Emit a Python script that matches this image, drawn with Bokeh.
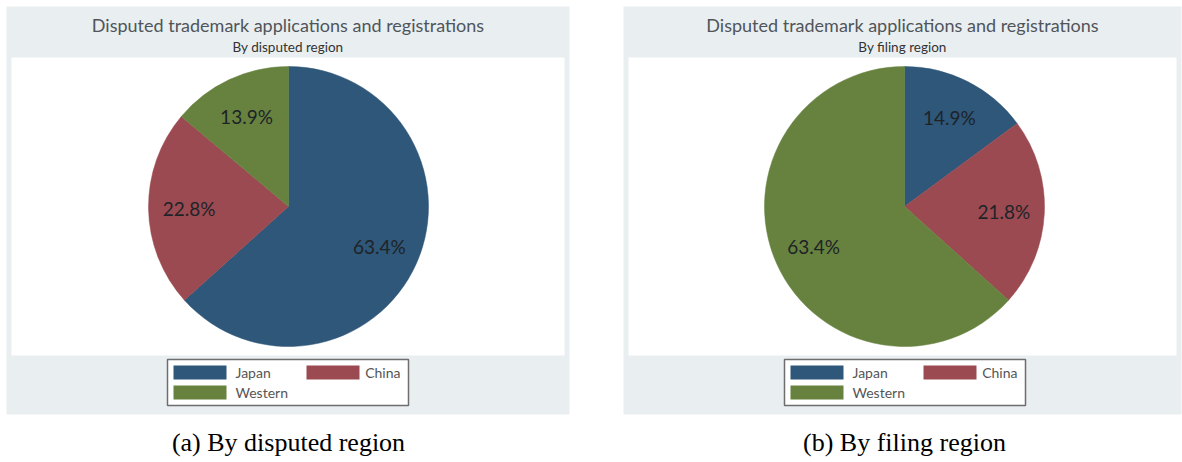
import numpy as np
from bokeh.plotting import figure
from bokeh.models import ColumnDataSource, Range1d
from bokeh.core.properties import value
from bokeh.embed import file_html
from bokeh.resources import INLINE

# ---- data ----
regions = ["Japan", "China", "Western"]
disputed_share = [63.4, 22.8, 13.9]
filing_share = [14.9, 21.8, 63.4]
label_disputed = ["63.4%", "22.8%", "13.9%"]
label_filing = ["14.9%", "21.8%", "63.4%"]
colors = ["#2e5779", "#9b4a51", "#67823f"]
title_text = "Disputed trademark applications and registrations"
subtitles = ["By disputed region", "By filing region"]
captions = ["(a) By disputed region", "(b) By filing region"]

W, H = 1182, 462
p = figure(width=W, height=H, output_backend="svg", toolbar_location=None,
           x_range=Range1d(0, W), y_range=Range1d(H, 0),
           min_border=0, background_fill_color="white", border_fill_color="white")
p.axis.visible = False
p.grid.visible = False
p.outline_line_color = None

FONT = value("Lato")

panels = [
    dict(x0=6, x1=569, px0=11, px1=564, cx=288, shares=disputed_share, labels=label_disputed,
         leg_x0=167, sub=subtitles[0], cap=captions[0]),
    dict(x0=623, x1=1181, px0=628, px1=1176, cx=904, shares=filing_share, labels=label_filing,
         leg_x0=784, sub=subtitles[1], cap=captions[1]),
]
cy = 206
R = 140

for pn in panels:
    # panel background and plot region
    p.quad(left=[pn["x0"]], right=[pn["x1"]], top=[6], bottom=[414],
           fill_color="#e9eef1", line_color=None)
    p.quad(left=[pn["px0"]], right=[pn["px1"]], top=[57], bottom=[355],
           fill_color="white", line_color=None)
    # titles
    tx = (pn["x0"] + pn["x1"]) / 2
    p.text(x=[tx], y=[24], text=[title_text], text_font=FONT, text_font_size="18px",
           text_color="#50555a", text_align="center", text_baseline="middle")
    p.text(x=[tx], y=[46], text=[pn["sub"]], text_font=FONT, text_font_size="13.5px",
           text_color="#333333", text_align="center", text_baseline="middle")

    # pie
    sh = np.array(pn["shares"], dtype=float)
    frac = sh / sh.sum()
    cum = np.cumsum(frac)
    prev = cum - frac
    start = np.pi / 2 - 2 * np.pi * prev
    end = np.pi / 2 - 2 * np.pi * cum
    mid = (start + end) / 2
    src = ColumnDataSource(dict(start=start, end=end, color=colors, region=regions,
                                x=[pn["cx"]] * 3, y=[cy] * 3))
    p.wedge(x="x", y="y", radius=R, radius_units="screen", start_angle="start",
            end_angle="end", direction="clock", fill_color="color", line_color="color",
            line_width=0.5, source=src)
    rl = 0.71 * R
    lx = pn["cx"] + rl * np.cos(mid)
    ly = cy - rl * np.sin(mid)
    p.text(x=lx, y=ly, text=pn["labels"], text_font=FONT, text_font_size="19px",
           text_color="#1e2328", text_align="center", text_baseline="middle")

    # legend box
    lx0 = pn["leg_x0"]
    p.quad(left=[lx0], right=[lx0 + 241], top=[359], bottom=[405],
           fill_color="white", line_color="#6e6e6e", line_width=1.5)
    sw_x = [lx0 + 6, lx0 + 139, lx0 + 6]
    sw_y = [372, 372, 392]
    for i in range(3):
        p.quad(left=[sw_x[i]], right=[sw_x[i] + 53], top=[sw_y[i] - 7], bottom=[sw_y[i] + 7],
               fill_color=colors[i], line_color=None)
    txt_x = [lx0 + 68, lx0 + 233, lx0 + 68]
    aligns = ["left", "right", "left"]
    for i in range(3):
        p.text(x=[txt_x[i]], y=[sw_y[i]], text=[regions[i]], text_font=FONT,
               text_font_size="14px", text_color="#555555", text_align=aligns[i],
               text_baseline="middle")

    # caption
    p.text(x=[pn["cx"]], y=[442], text=[pn["cap"]], text_font=value("Liberation Serif"),
           text_font_size="26px", text_color="black", text_align="center",
           text_baseline="middle")

open("out.html", "w").write(file_html(p, INLINE))
